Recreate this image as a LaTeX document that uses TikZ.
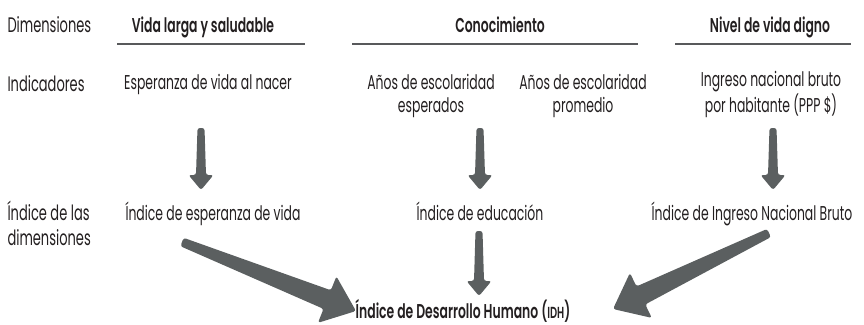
\documentclass[tikz,border=0pt]{standalone}
\usepackage{fontspec}
\setmainfont{Poppins}[FakeStretch=0.62, BoldFont={Poppins SemiBold}]
\usetikzlibrary{calc,positioning}
\definecolor{arrowgrey}{HTML}{5B5F60}
\definecolor{rulegrey}{HTML}{58595B}
\definecolor{txt}{HTML}{231F20}
\tikzset{
every picture/.style={
line width=1pt
}}
\tikzset{
  lbl/.style={inner sep=0pt, text=txt, align=center,
    font=\fontsize{20}{23}\selectfont},
  head/.style={lbl, font=\bfseries\fontsize{20}{23}\selectfont},
  rowlbl/.style={lbl, align=left, anchor=base west,
    font=\fontsize{21}{25}\selectfont},
  rule/.style={draw=rulegrey, line width=1.2pt},
  fat/.style={fill=arrowgrey, rounded corners=2.5pt}
}
% tapered arrow: start, end, tail half width, neck half width, head half width, head length
\newcommand{\fatarrow}[6]{%
  \coordinate (fa-h) at ($(#2)!#6!(#1)$);
  \fill[fat] ($(#1)!#3!90:(#2)$) -- ($(fa-h)!#4!-90:(#1)$) -- ($(fa-h)!#5!-90:(#1)$)
    -- (#2) -- ($(fa-h)!#5!90:(#1)$) -- ($(fa-h)!#4!90:(#1)$) -- ($(#1)!#3!-90:(#2)$) -- cycle;
}

\begin{document}
\begin{tikzpicture}[x=1pt,y=1pt]
  \useasboundingbox (0,0) rectangle (864,-324);

  % row labels (base = last line)
  \node[rowlbl] (dim) at (7,-32) {Dimensiones};
  \node[rowlbl] (ind) at (7,-91) {Indicadores};
  \node[rowlbl] (idim) at (7,-245) {Índice de las\\dimensiones};

  \node[head, anchor=base] (vida) at (203,-32) {Vida larga y saludable};
  \node[head, anchor=base] (cono) at (500,-32) {Conocimiento};
  \node[head, anchor=base] (nivel) at (770,-32) {Nivel de vida digno};
  \draw[rule] (117,-44) -- (305,-44);
  \draw[rule] (352,-44) -- (638,-44);
  \draw[rule] (675,-44) -- (851,-44);

  \node[lbl, anchor=base] (esp) at (208,-89) {Esperanza de vida al nacer};
  \node[lbl, anchor=base] (aesp) at (431,-112) {Años de escolaridad\\esperados};
  \node[lbl, anchor=base] (aprom) at (583,-112) {Años de escolaridad\\promedio};
  \node[lbl, anchor=base] (ingr) at (771,-112) {Ingreso nacional bruto\\por habitante (PPP \$)};

  \node[lbl, anchor=base] (iesp) at (213,-220) {Índice de esperanza de vida};
  \node[lbl, anchor=base] (iedu) at (480,-220) {Índice de educación};
  \node[lbl, anchor=base] (iing) at (752,-220) {Índice de Ingreso Nacional Bruto};

  \node[head, anchor=base] (idh) at (463,-318) {Índice de Desarrollo Humano ({\fontsize{16}{16}\selectfont IDH})};

  \coordinate (d1s) at (201,-128); \coordinate (d1e) at (201,-190);
  \coordinate (d2s) at (480,-128); \coordinate (d2e) at (480,-190);
  \coordinate (d3s) at (773,-128); \coordinate (d3e) at (773,-190);
  \coordinate (d4s) at (479,-231); \coordinate (d4e) at (479,-296);
  \coordinate (ls) at (182,-242); \coordinate (le) at (356,-311);
  \coordinate (rs) at (769,-233); \coordinate (re) at (613,-309);

  \fatarrow{d1s}{d1e}{3.5pt}{5pt}{12.5pt}{15pt}
  \fatarrow{d2s}{d2e}{3.5pt}{5pt}{12.5pt}{15pt}
  \fatarrow{d3s}{d3e}{3.5pt}{5pt}{12.5pt}{15pt}
  \fatarrow{d4s}{d4e}{3.5pt}{5pt}{12.5pt}{15pt}
  \fatarrow{ls}{le}{4.5pt}{10pt}{25pt}{31pt}
  \fatarrow{rs}{re}{4.5pt}{10pt}{25pt}{31pt}
\end{tikzpicture}
\end{document}
